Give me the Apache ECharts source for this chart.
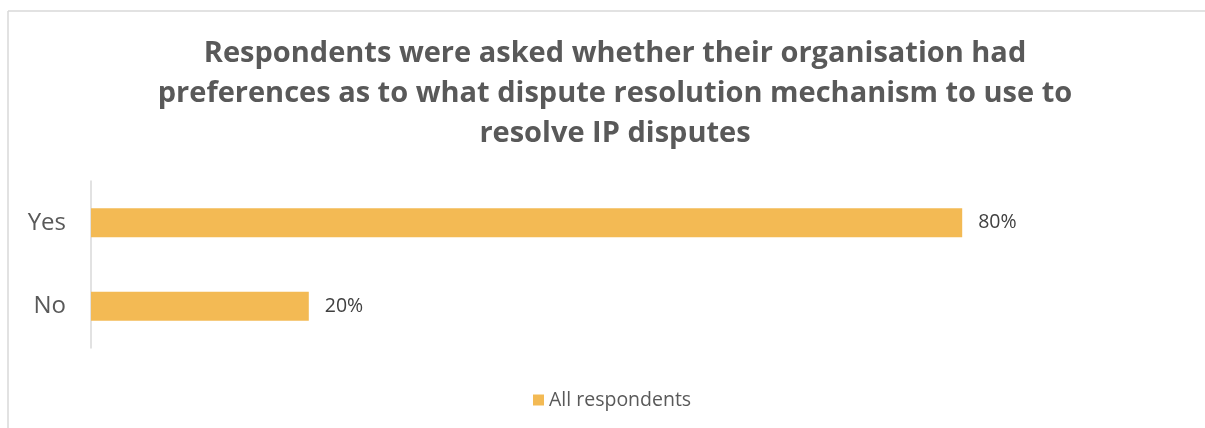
<!DOCTYPE html>
<html>
<head>
<meta charset="utf-8">
<script src="https://cdn.jsdelivr.net/npm/echarts@6/dist/echarts.min.js"></script>
<style>
  html, body { margin: 0; padding: 0; background: #ffffff; }
  #chart { width: 1205px; height: 428px; }
</style>
</head>
<body>
<div id="chart"></div>
<script>
// Survey answers (percent of all respondents)
const categories = ['Yes', 'No'];
const seriesName = 'All respondents';
const values = [80, 20];
const titleText = 'Respondents were asked whether their organisation had\npreferences as to what dispute resolution mechanism to use to\nresolve IP disputes';

const FONT = '"Open Sans", "Liberation Sans", Arial, sans-serif';
const chart = echarts.init(document.getElementById('chart'), null, { renderer: 'canvas' });

chart.setOption({
  animation: false,
  backgroundColor: '#ffffff',
  textStyle: { fontFamily: FONT },
  title: {
    text: titleText,
    left: 610,
    top: 29,
    textAlign: 'center',
    textStyle: {
      fontFamily: FONT,
      fontWeight: 'bold',
      fontSize: 29,
      lineHeight: 40,
      color: '#595959'
    }
  },
  legend: {
    data: [seriesName],
    left: 528,
    top: 385,
    itemWidth: 11,
    itemHeight: 11,
    itemGap: 10,
    icon: 'rect',
    textStyle: { fontFamily: FONT, fontSize: 19.5, color: '#595959', padding: [0, 0, 0, 0] }
  },
  grid: {
    left: 91,
    top: 181,
    width: 1089,
    height: 167,
    containLabel: false
  },
  xAxis: {
    type: 'value',
    min: 0,
    max: 100,
    show: false
  },
  yAxis: {
    type: 'category',
    data: categories,
    inverse: true,
    axisLine: { show: true, lineStyle: { color: '#d9d9d9', width: 1.5 } },
    axisTick: { show: false },
    axisLabel: { fontFamily: FONT, fontSize: 24, color: '#595959', margin: 25 },
    splitLine: { show: false }
  },
  series: [{
    name: seriesName,
    type: 'bar',
    data: values,
    barCategoryGap: '65%',
    itemStyle: { color: '#F3BA54' },
    label: {
      show: true,
      position: 'right',
      distance: 16,
      fontFamily: FONT,
      fontSize: 19.5,
      color: '#404040',
      formatter: p => p.value + '%'
    }
  }],
  graphic: [
    { type: 'line', shape: { x1: 8, y1: 11, x2: 1205, y2: 11 }, style: { stroke: '#d9d9d9', lineWidth: 1.5 } },
    { type: 'line', shape: { x1: 8, y1: 11, x2: 8, y2: 428 }, style: { stroke: '#d9d9d9', lineWidth: 1.5 } }
  ]
});
</script>
</body>
</html>
